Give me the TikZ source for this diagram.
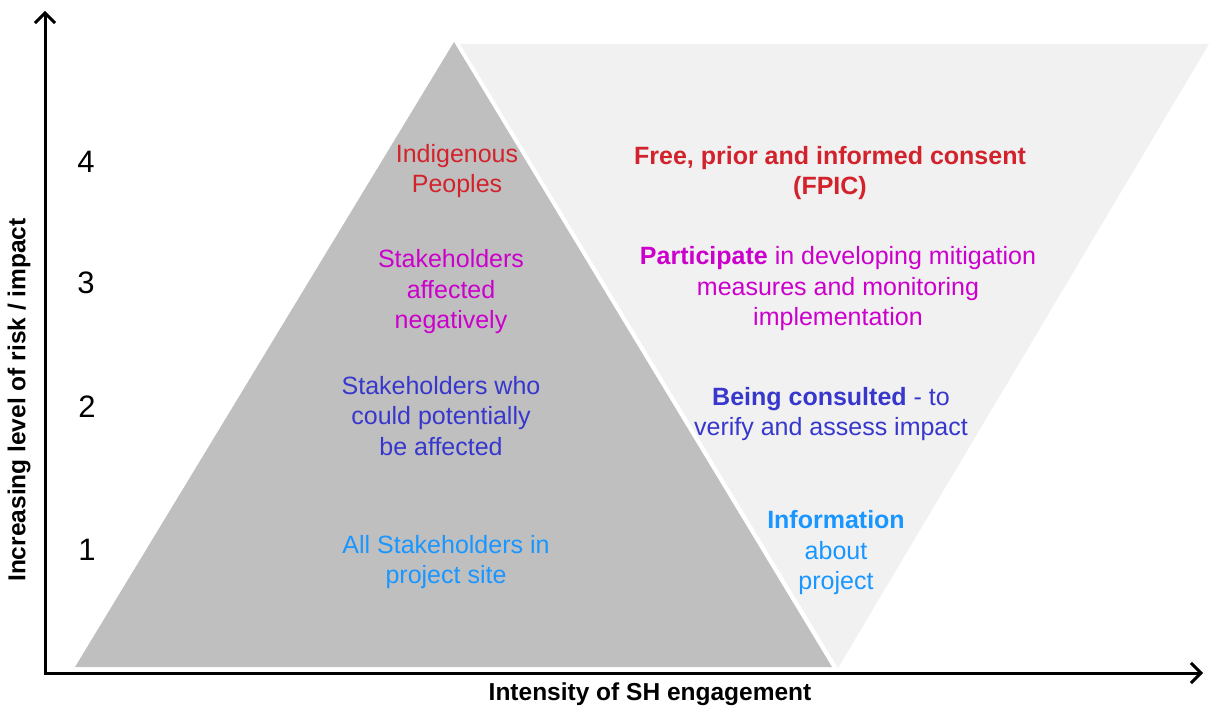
\documentclass[tikz,border=0pt]{standalone}
\usepackage{fontspec}
\setmainfont{Liberation Sans}
\usetikzlibrary{arrows.meta}

\definecolor{fpicred}{RGB}{210,35,45}
\definecolor{partmag}{RGB}{204,0,204}
\definecolor{consblue}{RGB}{55,55,205}
\definecolor{infoblue}{RGB}{25,150,255}
\definecolor{pyramid}{RGB}{191,191,191}
\definecolor{funnel}{RGB}{241,241,241}

\begin{document}
\begin{tikzpicture}[x=1pt,y=-1pt,
  axis/.style={line width=3pt,-{Straight Barb[length=10pt,width=20pt,line width=3pt]}},
  body/.style={align=center,inner sep=0pt,font=\fontsize{25}{30.5}\selectfont},
  axislabel/.style={inner sep=0pt,font=\fontsize{24.5}{29}\selectfont\bfseries},
  level/.style={inner sep=0pt,font=\fontsize{31}{36}\selectfont}]
\useasboundingbox (0,0) rectangle (1209,706);

% engagement funnel (inverted triangle) and stakeholder pyramid
\fill[funnel] (460,44) -- (1209,44) -- (838,668) -- cycle;
\fill[pyramid] (75,667) -- (454,42) -- (832,667) -- cycle;

% axes
\coordinate (origin) at (45,673);
\coordinate (ytip) at (45,11);
\coordinate (xtip) at (1203,673);
\draw[axis] (origin) -- (ytip);
\draw[axis] ([xshift=-1.5pt]origin) -- (xtip);

\node[axislabel,rotate=90] (ylab) at (19,400) {Increasing level of risk / impact};
\node[axislabel] (xlab) at (650,694) {Intensity of SH engagement};

% level numbers
\node[level] (l4) at (86,162) {4};
\node[level] (l3) at (86,283) {3};
\node[level] (l2) at (87,407) {2};
\node[level] (l1) at (87,550) {1};

% stakeholder groups
\node[body,text=fpicred] (indig) at (457,171) {Indigenous\\Peoples};
\node[body,text=partmag] (affneg) at (451,292) {Stakeholders\\affected\\negatively};
\node[body,text=consblue] (affpot) at (441,416) {Stakeholders who\\could potentially\\be affected};
\node[body,text=infoblue] (allsh) at (446,562) {All Stakeholders in\\project site};

% engagement forms
\node[body,text=fpicred,font=\fontsize{25}{30.5}\selectfont\bfseries] (fpic) at (830,173) {Free, prior and informed consent\\(FPIC)};
\node[body,text=partmag] (part) at (838,289) {\textbf{Participate} in developing mitigation\\measures and monitoring\\implementation};
\node[body,text=consblue] (cons) at (831,414) {\textbf{Being consulted} - to\\verify and assess impact};
\node[body,text=infoblue] (info) at (836,553) {\textbf{Information}\\about\\project};
\end{tikzpicture}
\end{document}
